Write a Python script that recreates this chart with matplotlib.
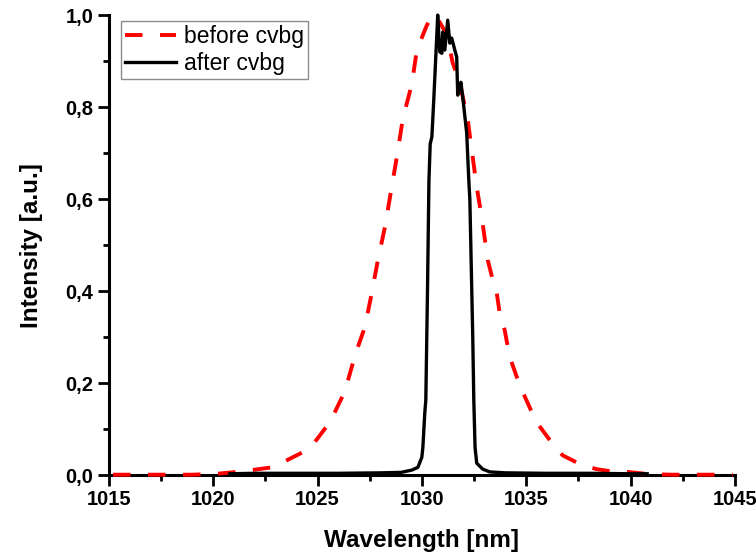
import matplotlib
matplotlib.use("Agg")
import matplotlib.pyplot as plt
from matplotlib.ticker import MultipleLocator, FuncFormatter

# "before cvbg" spectrum (wavelength nm, intensity a.u.)
before_wl = [1015.2, 1016.0, 1017.0, 1018.0, 1019.0, 1019.6, 1020.17, 1021.13, 1021.85,
             1022.81, 1023.34, 1024.30, 1024.87, 1025.49, 1025.83, 1026.31, 1026.69,
             1026.93, 1027.27, 1027.60, 1027.89, 1028.23, 1028.61, 1028.80, 1029.09,
             1029.52, 1029.76, 1030.24, 1030.52, 1030.85, 1031.20, 1031.48, 1031.82,
             1032.20, 1032.63, 1032.87, 1033.16, 1033.40, 1033.59, 1033.73, 1033.97,
             1034.21, 1034.60, 1034.84, 1035.27, 1035.60, 1036.23, 1036.75, 1037.66,
             1038.38, 1039.25, 1039.87, 1040.92, 1042.0, 1043.0, 1044.0, 1044.9]
before_int = [0.001, 0.001, 0.001, 0.001, 0.001, 0.002, 0.003, 0.007, 0.011,
              0.017, 0.028, 0.050, 0.072, 0.109, 0.137, 0.182, 0.243,
              0.278, 0.322, 0.396, 0.467, 0.539, 0.641, 0.691, 0.775,
              0.850, 0.924, 0.978, 1.000, 0.985, 0.957, 0.896, 0.852,
              0.772, 0.626, 0.561, 0.467, 0.424, 0.396, 0.352, 0.315,
              0.257, 0.207, 0.180, 0.137, 0.109, 0.070, 0.043, 0.022,
              0.013, 0.007, 0.007, 0.002, 0.001, 0.001, 0.001, 0.001]

# "after cvbg" spectrum
after_wl = [1020.8, 1022.0, 1024.0, 1026.0, 1028.0, 1029.0, 1029.52, 1029.81, 1030.0,
            1030.05, 1030.14, 1030.19, 1030.27, 1030.34, 1030.40, 1030.48, 1030.57,
            1030.72, 1030.76, 1030.86, 1030.96, 1031.0, 1031.10, 1031.24, 1031.34,
            1031.43, 1031.58, 1031.67, 1031.72, 1031.80, 1031.87, 1031.96, 1032.15,
            1032.25, 1032.30, 1032.37, 1032.44, 1032.49, 1032.55, 1032.63, 1032.92,
            1033.26, 1034.0, 1036.0, 1038.0, 1040.0, 1040.8]
after_int = [0.003, 0.004, 0.004, 0.004, 0.005, 0.006, 0.011, 0.017, 0.039,
             0.061, 0.135, 0.163, 0.40, 0.641, 0.72, 0.735, 0.815,
             0.96, 1.0, 0.92, 0.917, 0.963, 0.924, 0.989, 0.939,
             0.95, 0.924, 0.909, 0.826, 0.84, 0.854, 0.822, 0.743,
             0.641, 0.60, 0.45, 0.30, 0.163, 0.06, 0.026, 0.013,
             0.007, 0.005, 0.004, 0.004, 0.003, 0.003]

xticks = [1015, 1020, 1025, 1030, 1035, 1040, 1045]
yticks = [0.0, 0.2, 0.4, 0.6, 0.8, 1.0]

plt.rcParams['font.family'] = ['Liberation Sans', 'DejaVu Sans']

fig = plt.figure(figsize=(7.56, 5.59), dpi=100)
ax = fig.add_axes([0.144, 0.150, 0.828, 0.823])

ax.plot(before_wl, before_int, color='#ff0000', lw=2.8, linestyle=(0, (4.5, 4.5)),
        label='before cvbg', clip_on=False, zorder=3)
ax.plot(after_wl, after_int, color='black', lw=2.4, label='after cvbg',
        clip_on=False, zorder=4)

ax.set_xlim(1015, 1045)
ax.set_ylim(0, 1.0)
ax.set_xticks(xticks)
ax.set_yticks(yticks)
ax.xaxis.set_minor_locator(MultipleLocator(2.5))
ax.yaxis.set_minor_locator(MultipleLocator(0.1))
ax.yaxis.set_major_formatter(FuncFormatter(lambda v, p: f"{v:.1f}".replace('.', ',')))

for s in ['top', 'right']:
    ax.spines[s].set_visible(False)
for s in ['left', 'bottom']:
    ax.spines[s].set_linewidth(2.2)

ax.tick_params(which='major', direction='out', length=8, width=2, labelsize=14.5, pad=3)
ax.tick_params(which='minor', direction='out', length=4, width=2)
for lab in ax.get_xticklabels() + ax.get_yticklabels():
    lab.set_fontweight('bold')

ax.set_xlabel('Wavelength [nm]', fontsize=17.5, fontweight='bold', labelpad=14)
ax.set_ylabel('Intensity [a.u.]', fontsize=17.5, fontweight='bold', labelpad=16)

leg = ax.legend(loc='upper left', bbox_to_anchor=(0.019, 0.988), fontsize=16.5,
                frameon=True, fancybox=False, edgecolor='#707070',
                handlelength=2.2, handletextpad=0.35, labelspacing=0.15,
                borderpad=0.2, borderaxespad=0)
leg.get_frame().set_linewidth(1.0)

fig.savefig('out.png', dpi=100)
